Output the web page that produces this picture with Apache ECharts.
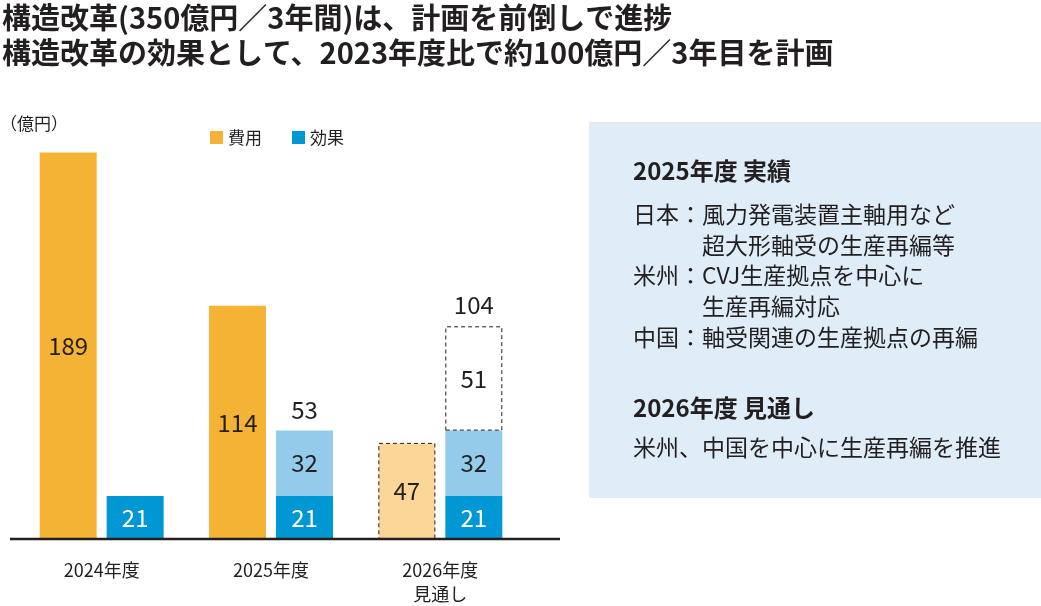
<!DOCTYPE html>
<html>
<head>
<meta charset="utf-8">
<script src="https://cdn.jsdelivr.net/npm/echarts@6/dist/echarts.min.js"></script>
<style>
    html, body { margin: 0; padding: 0; background: #fff; }
</style>
</head>
<body>
<div id="main" style="width: 1041px;height:606px;"></div>
<script type="text/javascript">
    // データ（億円）
    var categories = ['2024年度', '2025年度', '2026年度\n見通し'];
    var costActual = [189, 114, '-'];       // 費用（実績）
    var costPlan = ['-', '-', 47];          // 費用（見通し）
    var effectBase = [21, 21, 21];          // 効果
    var effectAdded = ['-', 32, 32];        // 効果（2025年度実績分）
    var effectPlan = ['-', '-', 51];        // 効果（見通し分）

    var effectTotals = categories.map(function (c, i) {
        return [effectBase, effectAdded, effectPlan].reduce(function (s, arr) {
            return s + (typeof arr[i] === 'number' ? arr[i] : 0);
        }, 0);
    });

    var FONT = '"Noto Sans CJK JP", "Noto Sans", sans-serif';
    var TEXT = '#231f20';
    var ORANGE = '#f5b335';
    var ORANGE_LIGHT = '#fbd697';
    var BLUE = '#0098d4';
    var BLUE_LIGHT = '#95cbea';

    var myChart = echarts.init(document.getElementById('main'));

    var barLabel = function (color) {
        return {
            show: true,
            position: 'inside',
            color: color,
            fontSize: 24,
            fontFamily: FONT
        };
    };

    var option = {
        animation: false,
        textStyle: { fontFamily: FONT },
        title: [
            {
                text: '構造改革(350億円／3年間)は、計画を前倒しで進捗\n構造改革の効果として、2023年度比で約100億円／3年目を計画',
                left: 2,
                top: 0,
                padding: 0,
                textStyle: { fontSize: 29, fontWeight: 'bold', lineHeight: 35, color: TEXT, fontFamily: FONT }
            },
            {
                text: '（億円）',
                left: 0,
                top: 115,
                padding: 0,
                textStyle: { fontSize: 17, fontWeight: 'normal', color: TEXT, fontFamily: FONT }
            }
        ],
        legend: {
            data: ['費用', '効果'],
            left: 205,
            top: 124,
            icon: 'rect',
            itemWidth: 13,
            itemHeight: 13,
            itemGap: 30,
            selectedMode: false,
            textStyle: { fontSize: 17, color: TEXT, fontFamily: FONT }
        },
        grid: {
            left: 17,
            right: 516,
            top: 130,
            bottom: 65
        },
        xAxis: {
            type: 'category',
            data: categories,
            axisLine: { show: false },
            axisTick: { show: false },
            axisLabel: {
                color: TEXT,
                fontSize: 18,
                lineHeight: 24,
                margin: 19,
                fontFamily: FONT
            }
        },
        yAxis: {
            type: 'value',
            min: 0,
            max: 200,
            show: false,
            splitLine: { show: false }
        },
        series: [
            {
                name: '費用',
                type: 'bar',
                stack: 'cost',
                barWidth: 57,
                barGap: '17.5%',
                itemStyle: { color: ORANGE },
                label: barLabel(TEXT),
                data: costActual
            },
            {
                name: '費用見通し',
                type: 'bar',
                stack: 'cost',
                barWidth: 57,
                barGap: '17.5%',
                itemStyle: {
                    color: ORANGE_LIGHT,
                    borderColor: '#231f20',
                    borderWidth: 1,
                    borderType: [4, 3]
                },
                label: barLabel(TEXT),
                data: costPlan
            },
            {
                name: '効果',
                type: 'bar',
                stack: 'effect',
                barWidth: 57,
                barGap: '17.5%',
                itemStyle: { color: BLUE },
                label: barLabel('#ffffff'),
                data: effectBase
            },
            {
                name: '効果実績',
                type: 'bar',
                stack: 'effect',
                barWidth: 57,
                barGap: '17.5%',
                itemStyle: { color: BLUE_LIGHT },
                label: barLabel(TEXT),
                data: effectAdded
            },
            {
                name: '効果見通し',
                type: 'bar',
                stack: 'effect',
                barWidth: 57,
                barGap: '17.5%',
                itemStyle: {
                    color: '#ffffff',
                    borderColor: '#231f20',
                    borderWidth: 1,
                    borderType: [4, 3]
                },
                label: barLabel(TEXT),
                data: effectPlan
            },
            {
                // 合計ラベル用
                name: '効果合計',
                type: 'bar',
                stack: 'effect',
                barWidth: 57,
                barGap: '17.5%',
                itemStyle: { color: 'transparent' },
                label: {
                    show: true,
                    position: 'top',
                    distance: 9,
                    color: TEXT,
                    fontSize: 24,
                    fontFamily: FONT,
                    formatter: function (p) {
                        return effectTotals[p.dataIndex];
                    }
                },
                data: effectAdded.map(function (v) { return v === '-' ? '-' : 0; })
            }
        ]
    };

    myChart.setOption(option);

    // 右側の説明パネルと基準線
    var baseY = myChart.convertToPixel({ yAxisIndex: 0 }, 0);
    var panelX = 633;
    var indentX = 702;
    var bodyFont = '23px ' + FONT;
    var headFont = 'bold 24px ' + FONT;

    var textEl = function (x, y, text, font) {
        return {
            type: 'text',
            x: x,
            y: y,
            style: {
                text: text,
                font: font,
                fill: TEXT,
                verticalAlign: 'middle'
            }
        };
    };

    myChart.setOption({
        graphic: [
            {
                type: 'line',
                shape: { x1: 10, y1: baseY, x2: 560, y2: baseY },
                style: { stroke: '#231f20', lineWidth: 2.5 },
                z: 10
            },
            {
                type: 'rect',
                shape: { x: 589, y: 122, width: 452, height: 376 },
                style: { fill: '#deedf8' },
                z: -1
            },
            textEl(panelX, 171, '2025年度 実績', headFont),
            textEl(panelX, 214, '日本：風力発電装置主軸用など', bodyFont),
            textEl(indentX, 245, '超大形軸受の生産再編等', bodyFont),
            textEl(panelX, 275, '米州：CVJ生産拠点を中心に', bodyFont),
            textEl(indentX, 306, '生産再編対応', bodyFont),
            textEl(panelX, 337, '中国：軸受関連の生産拠点の再編', bodyFont),
            textEl(panelX, 408, '2026年度 見通し', headFont),
            textEl(panelX, 447, '米州、中国を中心に生産再編を推進', bodyFont)
        ]
    });
</script>
</body>
</html>
